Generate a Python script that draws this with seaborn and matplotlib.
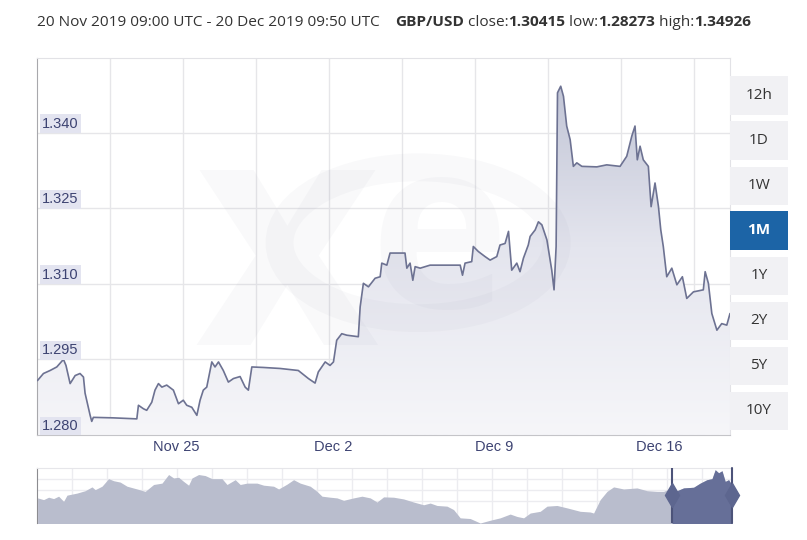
import numpy as np
import matplotlib
matplotlib.use("Agg")
import matplotlib.pyplot as plt
import seaborn as sns
import pandas as pd
from matplotlib.colors import LinearSegmentedColormap
from matplotlib.patches import Rectangle, Circle

# ---------------------------------------------------------------------
# data (days from 20 Nov 2019 00:00, GBP/USD rate)
# ---------------------------------------------------------------------
main_days = [0.19, 0.45, 0.74, 1.03, 1.32, 1.43, 1.61, 1.83, 2.04, 2.19, 2.26, 2.48,
             2.55, 2.62, 3.49, 4.51, 4.58, 4.80, 4.94, 5.16, 5.30, 5.45, 5.60, 5.81,
             6.10, 6.32, 6.53, 6.68, 6.90, 7.12, 7.26, 7.40, 7.55, 7.77, 7.91, 8.06,
             8.27, 8.49, 8.71, 9.00, 9.22, 9.36, 9.51, 10.01, 10.74, 11.53, 11.97, 12.26,
             12.40, 12.70, 12.91, 13.06, 13.20, 13.42, 13.64, 14.14, 14.22, 14.36, 14.58,
             14.87, 15.09, 15.16, 15.38, 15.52, 16.17, 16.25, 16.39, 16.51, 16.61, 16.83,
             17.26, 17.99, 18.57, 18.67, 18.78, 19.07, 19.14, 19.36, 19.65, 19.87, 20.16,
             20.30, 20.52, 20.67, 20.81, 21.03, 21.17, 21.32, 21.53, 21.61, 21.83, 21.97,
             22.12, 22.34, 22.55, 22.65, 22.74, 22.80, 22.94, 23.06, 23.20, 23.35, 23.49,
             23.64, 23.86, 24.51, 24.94, 25.52, 25.81, 26.03, 26.17, 26.27, 26.39, 26.53,
             26.75, 26.87, 27.04, 27.19, 27.29, 27.40, 27.55, 27.77, 27.99, 28.23, 28.42,
             28.71, 29.14, 29.22, 29.36, 29.51, 29.73, 29.94, 30.16, 30.30]
main_rates = [1.2908, 1.2922, 1.2928, 1.2935, 1.2950, 1.2938, 1.2902, 1.2918, 1.2922,
              1.2915, 1.2883, 1.2839, 1.2827, 1.2835, 1.2834, 1.2832, 1.2859, 1.2852,
              1.2849, 1.2865, 1.2889, 1.2902, 1.2895, 1.2899, 1.2889, 1.2862, 1.2869,
              1.2859, 1.2855, 1.2839, 1.2869, 1.2889, 1.2895, 1.2945, 1.2935, 1.2945,
              1.2928, 1.2905, 1.2912, 1.2916, 1.2895, 1.2889, 1.2935, 1.2934, 1.2932,
              1.2928, 1.2912, 1.2903, 1.2925, 1.2945, 1.2938, 1.2945, 1.2988, 1.3001,
              1.2998, 1.2995, 1.3054, 1.3101, 1.3094, 1.3111, 1.3114, 1.3141, 1.3137,
              1.3161, 1.3161, 1.3131, 1.3141, 1.3107, 1.3134, 1.3131, 1.3137, 1.3137,
              1.3137, 1.3117, 1.3141, 1.3144, 1.3174, 1.3164, 1.3154, 1.3147, 1.3154,
              1.3177, 1.3180, 1.3204, 1.3127, 1.3141, 1.3124, 1.3151, 1.3177, 1.3194,
              1.3207, 1.3223, 1.3217, 1.3187, 1.3127, 1.3088, 1.3174, 1.3479, 1.3492,
              1.3472, 1.3413, 1.3386, 1.3333, 1.3340, 1.3333, 1.3332, 1.3336, 1.3333,
              1.3353, 1.3393, 1.3413, 1.3346, 1.3373, 1.3346, 1.3333, 1.3253, 1.3300,
              1.3253, 1.3207, 1.3174, 1.3114, 1.3131, 1.3098, 1.3114, 1.3071, 1.3084,
              1.3088, 1.3124, 1.3101, 1.3041, 1.3008, 1.3021, 1.3018, 1.3041]

y_ticks = [1.280, 1.295, 1.310, 1.325, 1.340]
y_tick_labels = ["1.280", "1.295", "1.310", "1.325", "1.340"]
x_ticks = [5, 12, 19, 26]
x_tick_labels = ["Nov 25", "Dec 2", "Dec 9", "Dec 16"]

# navigator: days relative to 20 Dec 2019, rate
nav_days = [-347.2, -344.2, -341.7, -339.2, -336.7, -334.2, -332.5, -327.5, -323.4,
            -320.0, -318.4, -315.0, -311.7, -309.2, -305.9, -302.5, -297.5, -293.4,
            -289.2, -285.0, -281.7, -279.2, -276.7, -274.2, -271.7, -270.0, -266.7,
            -263.4, -260.0, -255.0, -252.5, -248.4, -245.9, -242.5, -237.5, -234.2,
            -229.2, -226.7, -222.5, -219.2, -215.9, -210.9, -207.5, -205.0, -200.9,
            -197.5, -194.2, -189.2, -185.0, -180.9, -177.5, -174.2, -169.2, -164.2,
            -159.2, -154.2, -150.9, -147.5, -142.5, -139.2, -135.9, -130.9, -125.9,
            -120.9, -115.9, -110.9, -107.5, -104.2, -100.9, -95.9, -92.5, -87.5, -82.5,
            -75.9, -70.9, -69.2, -65.9, -62.5, -59.2, -54.2, -47.5, -42.5, -37.5, -34.2,
            -30.0, -27.5, -24.2, -19.2, -15.9, -12.5, -10.0, -8.4, -6.7, -5.0, -3.4,
            -1.7, 0.0]
nav_rates = [1.268, 1.263, 1.270, 1.266, 1.273, 1.258, 1.276, 1.282, 1.289, 1.300,
             1.292, 1.302, 1.324, 1.318, 1.314, 1.302, 1.294, 1.287, 1.307, 1.311,
             1.336, 1.326, 1.328, 1.316, 1.305, 1.326, 1.336, 1.333, 1.324, 1.324,
             1.307, 1.321, 1.307, 1.311, 1.311, 1.305, 1.302, 1.294, 1.308, 1.321,
             1.311, 1.302, 1.287, 1.273, 1.270, 1.268, 1.261, 1.268, 1.273, 1.268,
             1.256, 1.271, 1.270, 1.265, 1.256, 1.248, 1.253, 1.246, 1.244, 1.234,
             1.210, 1.208, 1.195, 1.203, 1.210, 1.221, 1.214, 1.210, 1.224, 1.229,
             1.244, 1.246, 1.239, 1.229, 1.227, 1.224, 1.263, 1.287, 1.300, 1.294,
             1.297, 1.289, 1.287, 1.287, 1.297, 1.289, 1.297, 1.299, 1.311, 1.321,
             1.324, 1.350, 1.341, 1.347, 1.316, 1.321, 1.305]

buttons = ["12h", "1D", "1W", "1M", "1Y", "2Y", "5Y", "10Y"]
active_button = "1M"

W, H = 807, 540
LINE = "#6d7292"
TXT = "#3d4372"


def fx(px):
    return px / W


def fy(py):
    return 1 - py / H


sns.set_style("white")
plt.rcParams["font.family"] = ["Open Sans", "DejaVu Sans"]

fig = plt.figure(figsize=(W / 100, H / 100), dpi=100)

# ---------------------------------------------------------------------
# main chart
# ---------------------------------------------------------------------
ax = fig.add_axes([fx(37), fy(435), fx(693), 377 / H])
df = pd.DataFrame({"day": main_days, "rate": main_rates})
x0, x1 = 0.17, 30.30
y0, y1 = 1.280, 1.3548

poly = ax.fill_between(df["day"], df["rate"], y0, color="none", lw=0)
cmap = LinearSegmentedColormap.from_list("fade", ["#f6f6f9", "#e4e5ee", "#bcc0d2"])
grad = np.linspace(0, 1, 256).reshape(-1, 1)
img = ax.imshow(grad, extent=[x0, x1, y0, y1], origin="lower", aspect="auto",
                cmap=cmap, zorder=1)
img.set_clip_path(poly.get_paths()[0], transform=ax.transData)
sns.lineplot(data=df, x="day", y="rate", ax=ax, color=LINE, lw=1.2, zorder=3)

for v in y_ticks[1:]:
    ax.axhline(v, color="#e6e6e9", lw=1, zorder=0.5)
for d in np.arange(3.35, 30, 3.175):
    ax.axvline(d, color="#e6e6e9", lw=1, zorder=0.5)

# watermark
wm = "#8a8fa8"
ax.add_patch(Circle((0.55, 0.51), 0.2, transform=ax.transAxes, fill=False,
                    ec=wm, lw=20, alpha=0.05, zorder=2))
ax.text(0.36, 0.46, "x", transform=ax.transAxes, fontsize=230, fontweight="bold",
        color=wm, alpha=0.05, ha="center", va="center", zorder=2)
ax.text(0.58, 0.50, "e", transform=ax.transAxes, fontsize=170, fontweight="bold",
        color=wm, alpha=0.05, ha="center", va="center", zorder=2)

ax.set_xlim(x0, x1)
ax.set_ylim(y0, y1)
ax.set_xlabel("")
ax.set_ylabel("")
ax.set_yticks([])
ax.set_xticks(x_ticks)
ax.set_xticklabels([])
ax.set_xticks([1.5, 8.5, 15.5, 22.5, 29.5], minor=True)
ax.tick_params(axis="x", which="major", direction="out", length=17, width=1,
               color="#d4d4d8")
ax.tick_params(axis="x", which="minor", direction="out", length=3, width=1,
               color="#c8c8cc")
for s in ["top", "right"]:
    ax.spines[s].set_color("#e2e2e6")
ax.spines["left"].set_color("#a8a8ac")
ax.spines["bottom"].set_color("#c4c4c8")

for v, lab in zip(y_ticks, y_tick_labels):
    ax.text(x0 + 0.22, v + 0.0004, lab, fontsize=10.5, color=TXT,
            family="Liberation Sans", va="bottom", ha="left", zorder=5,
            bbox=dict(boxstyle="square,pad=0.16", fc="#e3e4f0", ec="none"))
for d, lab in zip(x_ticks, x_tick_labels):
    ax.text(d + 0.2, -0.012, lab, transform=ax.get_xaxis_transform(), fontsize=10.5,
            color=TXT, family="Liberation Sans", va="top", ha="left")

# ---------------------------------------------------------------------
# navigator
# ---------------------------------------------------------------------
nav = fig.add_axes([fx(37), fy(523), fx(695), 55 / H])
ndf = pd.DataFrame({"day": nav_days, "rate": nav_rates})
sel = ndf["day"] >= -30
nav.fill_between(ndf["day"], ndf["rate"], 1.19, color="#b9bdcd", lw=0, zorder=2)
nav.fill_between(ndf["day"], ndf["rate"], 1.19, where=sel, color="#666f98", lw=0,
                 zorder=3)
for d in np.arange(-330, 0, 17.5):
    nav.axvline(d, color="#ececf0", lw=1, zorder=1)
for v in [1.258, 1.292, 1.324]:
    nav.axhline(v, color="#ececf0", lw=1, zorder=1)
nav.axvline(-30, color="#4c5379", lw=1.5, zorder=4)
nav.axvline(0, color="#4c5379", lw=1.5, zorder=4, clip_on=False)
nav.plot([-30, 0], [1.275, 1.275], ls="none", marker="d", ms=12, color="#5d668f",
         clip_on=False, zorder=5)
nav.set_xlim(-347.5, 0)
nav.set_ylim(1.195, 1.355)
nav.set_xticks([])
nav.set_yticks([])
nav.set_xlabel("")
nav.set_ylabel("")
nav.spines["left"].set_color("#8c8c90")
nav.spines["top"].set_color("#e6e6ea")
nav.spines["right"].set_visible(False)
nav.spines["bottom"].set_visible(False)

# ---------------------------------------------------------------------
# range buttons
# ---------------------------------------------------------------------
for i, b in enumerate(buttons):
    top = 76.5 + i * 45.0
    on = b == active_button
    fig.patches.append(Rectangle((fx(730), fy(top + 38)), fx(58), 38 / H,
                                 transform=fig.transFigure,
                                 fc="#1c64a6" if on else "#f1f1f4", ec="none"))
    fig.text(fx(759), fy(top + 19), b, ha="center", va="center", fontsize=11,
             color="white" if on else "#333333", fontweight="bold" if on else "normal")

# ---------------------------------------------------------------------
# header line
# ---------------------------------------------------------------------
parts = [("20 Nov 2019 09:00 UTC - 20 Dec 2019 09:50 UTC", "normal", 0),
         ("GBP/USD", "bold", 15), (" close:", "normal", 0), ("1.30415", "bold", 0),
         (" low:", "normal", 0), ("1.28273", "bold", 0), (" high:", "normal", 0),
         ("1.34926", "bold", 0)]
renderer = fig.canvas.get_renderer()
xpos = 37
for txt, weight, gap in parts:
    xpos += gap
    t = fig.text(fx(xpos), fy(22), txt, fontsize=11.1, color="#333333",
                 fontweight=weight, va="center", ha="left")
    xpos += t.get_window_extent(renderer).width

fig.savefig("out.png", dpi=100)
